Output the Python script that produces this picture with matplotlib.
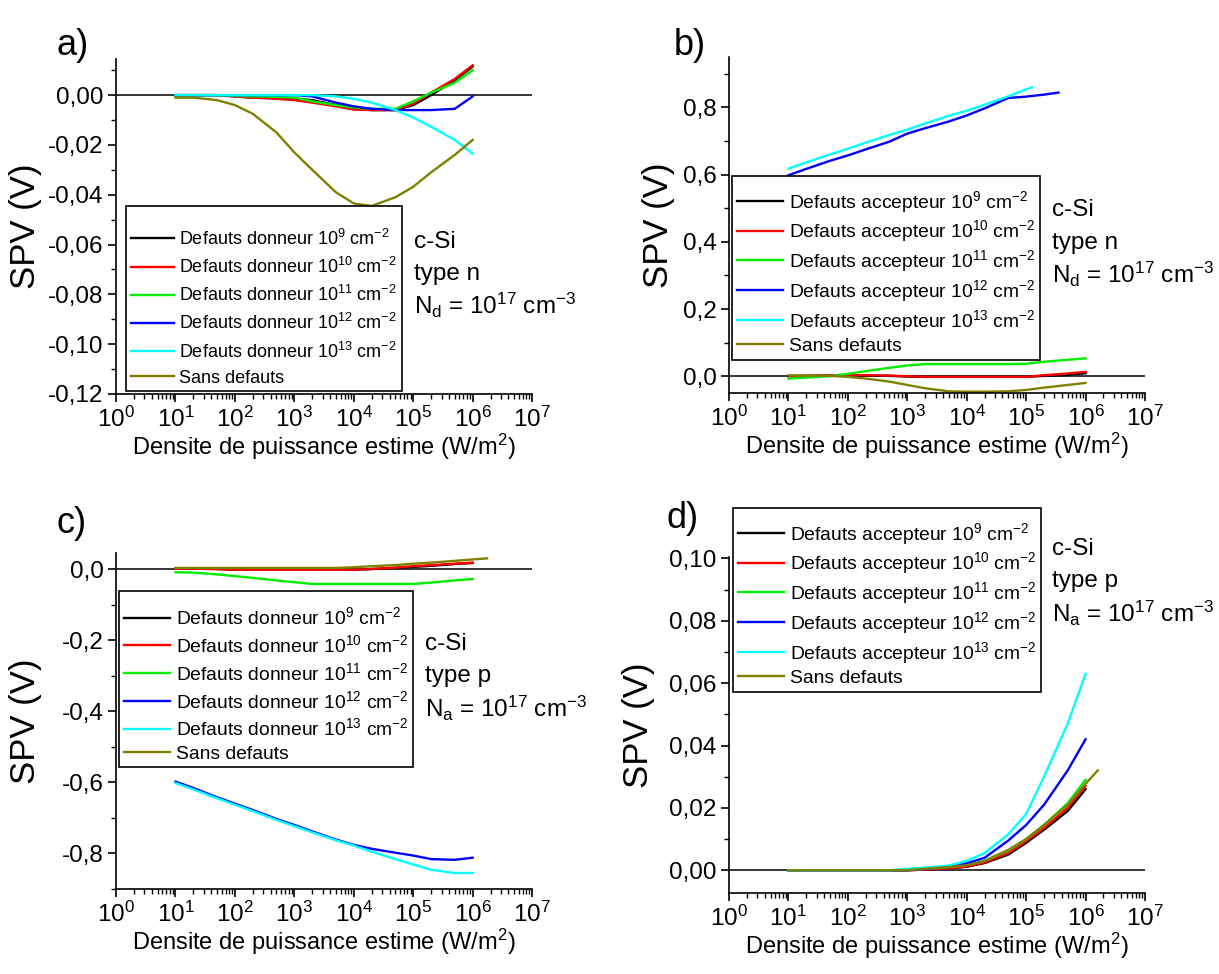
import numpy as np
import matplotlib
matplotlib.use("Agg")
import matplotlib.pyplot as plt
from matplotlib.ticker import MultipleLocator, FuncFormatter, LogLocator

plt.rcParams['font.family'] = ['Liberation Sans', 'DejaVu Sans']
plt.rcParams['mathtext.fontset'] = 'custom'
plt.rcParams['mathtext.rm'] = 'Liberation Sans'
plt.rcParams['mathtext.it'] = 'Liberation Sans:italic'
plt.rcParams['mathtext.bf'] = 'Liberation Sans:bold'

# power density grid (W/m2), 1-2-5 steps
x_grid = [10, 20, 50, 100, 200, 500, 1e3, 2e3, 5e3, 1e4, 2e4, 5e4, 1e5, 2e5, 5e5, 1e6]

colors = ['#000000', '#ff0000', '#00ee00', '#0000ff', '#00ffff', '#808000']
exps = ['9', '10', '11', '12', '13']

# ---- a) donor defects, n-type
a_black = [0, 0, 0, -0.0005, -0.001, -0.001, -0.0015, -0.002, -0.004, -0.0055, -0.006, -0.006, -0.004, 0.0, 0.006, 0.0115]
a_red = [0, 0, 0, -0.0005, -0.001, -0.0015, -0.002, -0.003, -0.0045, -0.0058, -0.006, -0.006, -0.0035, 0.001, 0.0065, 0.012]
a_green = [0, 0, 0, -0.0003, -0.0005, -0.0007, -0.001, -0.0025, -0.004, -0.005, -0.0055, -0.0055, -0.0025, 0.001, 0.005, 0.010]
a_blue = [0, 0, 0, 0, 0, 0, 0, -0.0005, -0.003, -0.0045, -0.0055, -0.006, -0.006, -0.006, -0.0055, -0.0005]
a_cyan = [0, 0, 0, 0, 0, 0, 0, 0, -0.0005, -0.0015, -0.003, -0.006, -0.009, -0.0127, -0.018, -0.0235]
a_olive = [-0.001, -0.001, -0.002, -0.004, -0.0075, -0.015, -0.023, -0.030, -0.039, -0.0435, -0.0445, -0.041, -0.0368, -0.031, -0.024, -0.018]

# ---- b) acceptor defects, n-type
b_black = [0, 0.001, 0.002, 0.002, 0.002, 0.001, -0.001, -0.002, -0.002, -0.002, -0.002, -0.002, -0.002, 0.001, 0.004, 0.009]
b_red = [0, 0.001, 0.002, 0.003, 0.003, 0.002, 0.0, -0.002, -0.002, -0.002, -0.002, -0.002, -0.002, 0.003, 0.008, 0.013]
b_green = [-0.007, -0.004, 0.0, 0.007, 0.015, 0.025, 0.032, 0.036, 0.036, 0.036, 0.036, 0.036, 0.037, 0.043, 0.049, 0.053]
b_blue_x = [10, 20, 50, 100, 200, 500, 1e3, 2e3, 5e3, 1e4, 2e4, 5e4, 1e5, 2e5, 3.5e5]
b_blue = [0.598, 0.617, 0.641, 0.657, 0.675, 0.698, 0.722, 0.738, 0.758, 0.776, 0.797, 0.828, 0.832, 0.838, 0.844]
b_cyan_x = [10, 20, 50, 100, 200, 500, 1e3, 2e3, 5e3, 1e4, 2e4, 5e4, 1.25e5]
b_cyan = [0.618, 0.636, 0.660, 0.677, 0.695, 0.718, 0.734, 0.752, 0.775, 0.790, 0.808, 0.833, 0.860]
b_olive = [0.003, 0.002, 0.001, -0.002, -0.007, -0.016, -0.026, -0.036, -0.045, -0.046, -0.046, -0.045, -0.041, -0.034, -0.026, -0.020]

# ---- c) donor defects, p-type
c_black = [0.001, 0.001, 0.0, -0.002, -0.002, -0.002, -0.002, -0.002, -0.002, -0.002, 0.0, 0.003, 0.006, 0.009, 0.014, 0.017]
c_red = [0.001, 0.001, 0.0, -0.002, -0.002, -0.002, -0.002, -0.002, -0.002, -0.002, 0.0, 0.004, 0.008, 0.011, 0.015, 0.018]
c_green = [-0.009, -0.010, -0.015, -0.020, -0.025, -0.032, -0.037, -0.042, -0.042, -0.042, -0.042, -0.042, -0.042, -0.038, -0.032, -0.028]
c_blue = [-0.598, -0.616, -0.642, -0.660, -0.678, -0.703, -0.720, -0.738, -0.761, -0.776, -0.787, -0.798, -0.806, -0.816, -0.818, -0.812]
c_cyan = [-0.602, -0.620, -0.645, -0.663, -0.681, -0.706, -0.723, -0.741, -0.763, -0.778, -0.795, -0.816, -0.831, -0.846, -0.855, -0.855]
c_olive_x = x_grid + [1.75e6]
c_olive = [0.003, 0.003, 0.003, 0.003, 0.003, 0.003, 0.003, 0.003, 0.003, 0.005, 0.008, 0.011, 0.015, 0.018, 0.023, 0.027, 0.030]

# ---- d) acceptor defects, p-type
d_black = [0, 0, 0, 0, 0, 0, 0, 0.0002, 0.0006, 0.0011, 0.0023, 0.005, 0.0088, 0.013, 0.019, 0.026]
d_red = [0, 0, 0, 0, 0, 0, 0, 0.0002, 0.0006, 0.0012, 0.0025, 0.0055, 0.0093, 0.0135, 0.020, 0.027]
d_green = [0, 0, 0, 0, 0, 0, 0, 0.0004, 0.001, 0.0017, 0.003, 0.0063, 0.010, 0.0145, 0.0215, 0.029]
d_blue = [0, 0, 0, 0, 0, 0, 0, 0.0004, 0.0012, 0.0022, 0.004, 0.0095, 0.0145, 0.021, 0.032, 0.042]
d_cyan = [0, 0, 0, 0, 0, 0, 0.0005, 0.0008, 0.0015, 0.003, 0.0055, 0.0115, 0.018, 0.030, 0.047, 0.063]
d_olive_x = x_grid + [1.6e6]
d_olive = [0, 0, 0, 0, 0, 0, 0, 0.0005, 0.001, 0.0016, 0.003, 0.0065, 0.010, 0.0145, 0.021, 0.0277, 0.032]


def comma_fmt(dec):
    return FuncFormatter(lambda v, p: f"{v + 0.0:.{dec}f}".replace('.', ','))


def draw_panel(rect, series, kind, ylim, major, dec, tag, side, legend_xy, leg_style, ylab_x):
    ax = fig.add_axes(rect)
    ax.axhline(0, color='black', lw=1.1, zorder=1)
    for i, (xs, ys) in enumerate(series):
        if i < 5:
            lab = f"Defauts {kind} 10$^{{{exps[i]}}}$ cm$^{{-2}}$"
        else:
            lab = "Sans defauts"
        ax.plot(xs, ys, color=colors[i], lw=1.7, label=lab, zorder=2)
    ax.set_xscale('log')
    ax.set_xlim(1, 1e7)
    ax.set_ylim(*ylim)
    ax.set_xticks([10.0 ** k for k in range(8)])
    ax.xaxis.set_minor_locator(LogLocator(base=10, subs=np.arange(2, 10), numticks=20))
    ax.yaxis.set_major_locator(MultipleLocator(major))
    ax.yaxis.set_minor_locator(MultipleLocator(major / 2))
    ax.yaxis.set_major_formatter(comma_fmt(dec))
    for s in ['top', 'right']:
        ax.spines[s].set_visible(False)
    for s in ['left', 'bottom']:
        ax.spines[s].set_linewidth(1.2)
    ax.tick_params(which='major', direction='out', length=6, width=1.2, labelsize=17.5, pad=3)
    ax.tick_params(which='minor', direction='out', length=3.5, width=1.0)
    ax.set_xlabel("Densite de puissance estime (W/m$^{2}$)", fontsize=17, labelpad=0)
    ax.set_ylabel("SPV (V)", fontsize=25)
    ax.yaxis.set_label_coords(ylab_x, 0.5)
    fs, spacing, title_fs = leg_style
    leg = ax.legend(loc='upper left', bbox_to_anchor=legend_xy, bbox_transform=fig.transFigure,
                    fontsize=fs, frameon=True, fancybox=False, edgecolor='black', framealpha=1,
                    handlelength=2.4, handletextpad=0.3, labelspacing=spacing, borderpad=0.25,
                    borderaxespad=0, title=' ', title_fontsize=title_fs)
    leg.get_frame().set_linewidth(1.2)
    tx, ty, lines = side
    for j, line in enumerate(lines):
        fig.text(tx, ty - j * 0.033, line, fontsize=17.5, va='center', ha='left')
    fig.text(tag[1], tag[2], tag[0], fontsize=26, va='center', ha='left')
    return ax


fig = plt.figure(figsize=(12.19, 9.74), dpi=100)

draw_panel([0.0952, 0.5955, 0.3413, 0.3439],
           [(x_grid, a_black), (x_grid, a_red), (x_grid, a_green), (x_grid, a_blue), (x_grid, a_cyan), (x_grid, a_olive)],
           'donneur', (-0.12, 0.0145), 0.02, 2, ('a)', 0.046, 0.953),
           (0.340, 0.752, ['c-Si', 'type n', r'N$_{\mathregular{d}}$ = 10$^{17}$ cm$^{-3}$']),
           (0.1034, 0.7885), (13, 0.45, 7), -0.178)

draw_panel([0.598, 0.5965, 0.3413, 0.345],
           [(x_grid, b_black), (x_grid, b_red), (x_grid, b_green), (b_blue_x, b_blue), (b_cyan_x, b_cyan), (x_grid, b_olive)],
           'accepteur', (-0.05, 0.95), 0.2, 1, ('b)', 0.553, 0.953),
           (0.863, 0.784, ['c-Si', 'type n', r'N$_{\mathregular{d}}$ = 10$^{17}$ cm$^{-3}$']),
           (0.6005, 0.8193), (13.9, 0.2, 3), -0.13)

draw_panel([0.0952, 0.0873, 0.3413, 0.3449],
           [(x_grid, c_black), (x_grid, c_red), (x_grid, c_green), (x_grid, c_blue), (x_grid, c_cyan), (c_olive_x, c_olive)],
           'donneur', (-0.9, 0.045), 0.2, 1, ('c)', 0.046, 0.463),
           (0.349, 0.339, ['c-Si', 'type p', r'N$_{\mathregular{a}}$ = 10$^{17}$ cm$^{-3}$']),
           (0.0976, 0.3932), (13.9, 0.3, 4), -0.178)

draw_panel([0.598, 0.0832, 0.3413, 0.345],
           [(x_grid, d_black), (x_grid, d_red), (x_grid, d_green), (x_grid, d_blue), (x_grid, d_cyan), (d_olive_x, d_olive)],
           'accepteur', (-0.0073, 0.1005), 0.02, 2, ('d)', 0.547, 0.468),
           (0.863, 0.436, ['c-Si', 'type p', r'N$_{\mathregular{a}}$ = 10$^{17}$ cm$^{-3}$']),
           (0.6013, 0.4784), (13.9, 0.2, 3), -0.178)

fig.savefig('out.png', dpi=100)
